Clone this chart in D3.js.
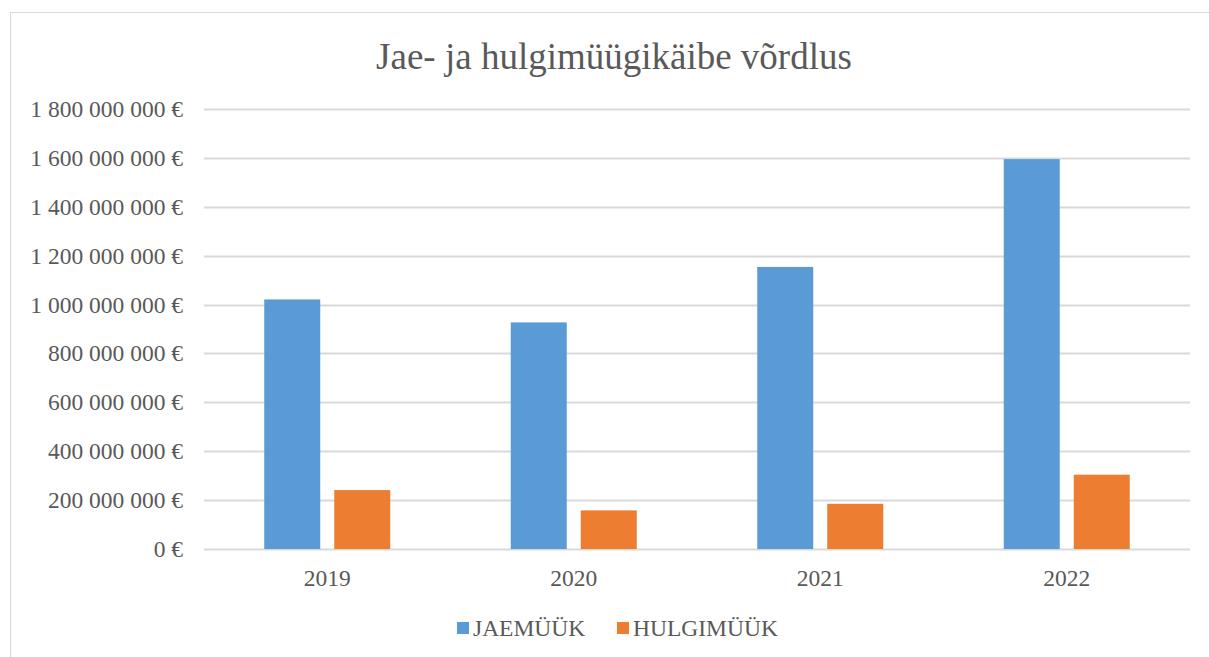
<!DOCTYPE html>
<html>
<head>
<meta charset="utf-8">
<script src="https://cdn.jsdelivr.net/npm/d3@7"></script>
<style>
  body { margin: 0; background: #fff; }
  text { font-family: "Liberation Serif", "Times New Roman", serif; fill: #595959; }
</style>
</head>
<body>
<svg id="chart"></svg>
<script>
// Data
var years = ["2019", "2020", "2021", "2022"];
var seriesNames = ["JAEMÜÜK", "HULGIMÜÜK"];
var jaemyyk = [1021000000, 927000000, 1154000000, 1595000000];
var hulgimyyk = [241000000, 158000000, 185000000, 304000000];
var yTicks = [0, 200000000, 400000000, 600000000, 800000000, 1000000000, 1200000000, 1400000000, 1600000000, 1800000000];
var colors = ["#5b9bd5", "#ed7d31"];

var W = 1209, H = 657;
var margin = { top: 109, right: 19, bottom: 108, left: 204 };
var width = W - margin.left - margin.right,
  height = H - margin.top - margin.bottom;

var svg = d3.select("#chart").attr("width", W).attr("height", H);

// outer frame (runs past the right/bottom edge)
svg.append("rect")
  .attr("x", 10.5).attr("y", 12.5)
  .attr("width", W + 20).attr("height", H + 20)
  .attr("fill", "none").attr("stroke", "#d9d9d9");

svg.append("text")
  .attr("x", 614).attr("y", 69)
  .attr("text-anchor", "middle")
  .style("font-size", "37px")
  .text("Jae- ja hulgimüügikäibe võrdlus");

var g = svg.append("g").attr("transform", "translate(" + margin.left + "," + margin.top + ")");

var x0 = d3.scaleBand().domain(years).range([0, width]);
var x1 = d3.scaleBand().domain(seriesNames).range([0, 126]).paddingInner(0.2);
var y = d3.scaleLinear().domain([0, 1800000000]).range([height, 0]);

var fmt = function(v) {
  return d3.format(",")(v).replace(/,/g, " ") + " €";
};

// gridlines
g.selectAll(".grid").data(yTicks).enter().append("line")
  .attr("x1", 0).attr("x2", width)
  .attr("y1", function(d) { return Math.round(y(d)) + 0.5; })
  .attr("y2", function(d) { return Math.round(y(d)) + 0.5; })
  .attr("stroke", "#d9d9d9").attr("stroke-width", 2);

// y labels
var yAxis = d3.axisLeft(y).tickValues(yTicks).tickFormat(fmt).tickSize(0).tickPadding(21);
g.append("g").call(yAxis)
  .attr("font-family", null).attr("font-size", null)
  .call(function(a) { a.select(".domain").remove(); })
  .selectAll("text")
  .style("font-size", "23.5px")
  .style("fill", "#595959");

// bars
var data = years.map(function(yr, i) {
  return { year: yr, values: [jaemyyk[i], hulgimyyk[i]] };
});

var grp = g.selectAll(".yr").data(data).enter().append("g")
  .attr("transform", function(d) {
    return "translate(" + (x0(d.year) + (x0.bandwidth() - 126) / 2) + ",0)";
  });

grp.selectAll("rect").data(function(d) {
    return d.values.map(function(v, i) { return { name: seriesNames[i], value: v, i: i }; });
  })
  .enter().append("rect")
  .attr("x", function(d) { return x1(d.name); })
  .attr("width", x1.bandwidth())
  .attr("y", function(d) { return y(d.value); })
  .attr("height", function(d) { return height - y(d.value); })
  .attr("fill", function(d) { return colors[d.i]; });

// x labels
var xAxis = d3.axisBottom(x0).tickSize(0).tickPadding(20);
g.append("g").attr("transform", "translate(0," + height + ")").call(xAxis)
  .attr("font-family", null).attr("font-size", null)
  .call(function(a) { a.select(".domain").remove(); })
  .selectAll("text")
  .style("font-size", "23.5px")
  .style("fill", "#595959");

// legend
var legendX = [457, 617];
var legend = svg.selectAll(".legend").data(seriesNames).enter().append("g")
  .attr("transform", function(d, i) { return "translate(" + legendX[i] + ",628)"; });
legend.append("rect")
  .attr("x", 0).attr("y", -6).attr("width", 12).attr("height", 12)
  .attr("fill", function(d, i) { return colors[i]; });
legend.append("text")
  .attr("x", 16).attr("y", 8)
  .style("font-size", "23.5px")
  .text(function(d) { return d; });
</script>
</body>
</html>
